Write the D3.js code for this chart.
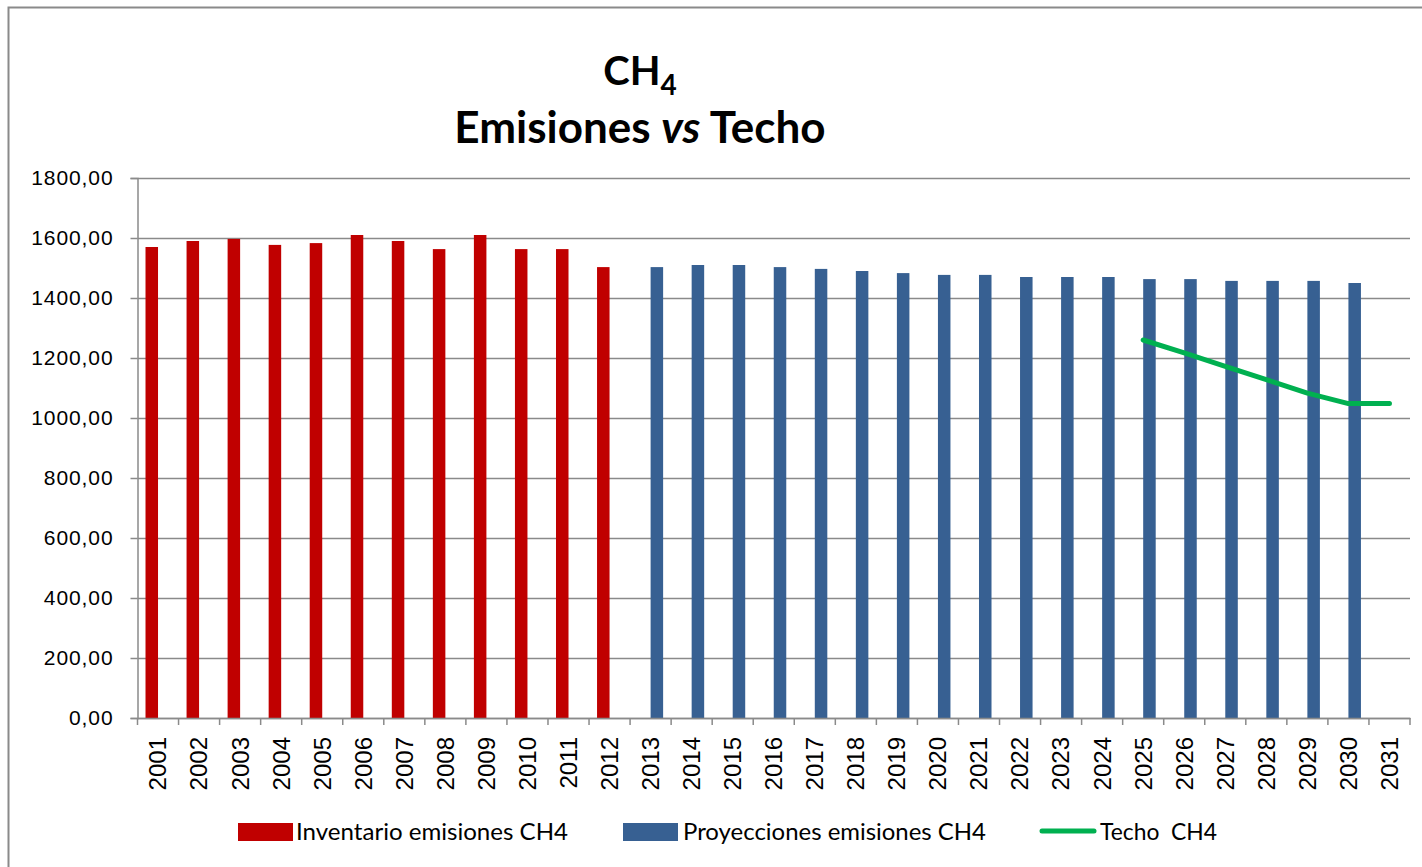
<!DOCTYPE html>
<html>
<head>
<meta charset="utf-8">
<script src="https://cdn.jsdelivr.net/npm/d3@7"></script>
<style>
  body { margin: 0; background: #fff; }
  svg { display: block; font-family: Lato, "Liberation Sans", sans-serif; }
</style>
</head>
<body>
<svg width="1422" height="867"></svg>
<script>
// data
let years = d3.range(2001, 2032).map(String);
let invYears = ["2001","2002","2003","2004","2005","2006","2007","2008","2009","2010","2011","2012"];
let invValues = [1570, 1590, 1597, 1577, 1583, 1610, 1590, 1563, 1610, 1563, 1563, 1503];
let projYears = ["2013","2014","2015","2016","2017","2018","2019","2020","2021","2022","2023","2024","2025","2026","2027","2028","2029","2030"];
let projValues = [1503, 1510, 1510, 1503, 1497, 1490, 1483, 1477, 1477, 1470, 1470, 1470, 1463, 1463, 1457, 1457, 1457, 1450];
let techoYears = ["2025","2026","2027","2028","2029","2030","2031"];
let techoValues = [1260, 1217, 1172, 1128, 1083, 1048, 1048];
let yTicks = [0, 200, 400, 600, 800, 1000, 1200, 1400, 1600, 1800];

let svg = d3.select("svg");

let plotL = 137.5, plotR = 1410, plotT = 178, plotB = 718;

// chart frame (only top/left edges visible)
svg.append("rect")
    .attr("x", 8.5).attr("y", 7.5)
    .attr("width", 1440).attr("height", 900)
    .attr("fill", "none")
    .attr("stroke", "#8a8a8a")
    .attr("stroke-width", 2);

let x = d3.scaleBand().domain(years).range([plotL, plotR]).padding(0);
let x1 = d3.scaleBand().domain(["inv", "proj"]).range([0, x.bandwidth()])
    .paddingInner(0).paddingOuter(0.64);
let y = d3.scaleLinear().domain([0, 1800]).range([plotB, plotT]);

// gridlines
svg.append("g")
    .attr("transform", "translate(" + plotL + ",0)")
    .call(d3.axisLeft(y).tickValues(yTicks).tickSize(-(plotR - plotL)).tickFormat(""))
    .call(g => g.select(".domain").remove())
    .call(g => g.selectAll("line").attr("stroke", "#8a8a8a").attr("stroke-width", 1.5));

// y axis
svg.append("g")
    .attr("transform", "translate(" + plotL + ",0)")
    .call(d3.axisLeft(y).tickValues(yTicks).tickSize(7).tickPadding(17)
        .tickFormat(d => d3.format(".2f")(d).replace(".", ",")))
    .call(g => g.select(".domain").attr("stroke", "#8a8a8a").attr("stroke-width", 1.5))
    .call(g => g.selectAll("line").attr("stroke", "#8a8a8a").attr("stroke-width", 1.5))
    .call(g => g.selectAll("text")
        .attr("fill", "#000")
        .style("font-size", "21px")
        .style("letter-spacing", "0.9px"));

// bars
svg.append("g").selectAll("rect")
    .data(invYears)
    .join("rect")
    .attr("x", (d) => x(d) + x1("inv"))
    .attr("y", (d, i) => y(invValues[i]))
    .attr("width", x1.bandwidth())
    .attr("height", (d, i) => plotB - y(invValues[i]))
    .attr("fill", "#c00000");

svg.append("g").selectAll("rect")
    .data(projYears)
    .join("rect")
    .attr("x", (d) => x(d) + x1("proj"))
    .attr("y", (d, i) => y(projValues[i]))
    .attr("width", x1.bandwidth())
    .attr("height", (d, i) => plotB - y(projValues[i]))
    .attr("fill", "#376092");

// x axis
let xa = svg.append("g").attr("transform", "translate(0," + plotB + ")");
xa.call(d3.axisBottom(x).tickSize(0).tickPadding(0))
    .call(g => g.select(".domain").attr("stroke", "#8a8a8a").attr("stroke-width", 1.5))
    .call(g => g.selectAll(".tick text")
        .attr("fill", "#000")
        .attr("transform", "rotate(-90)")
        .attr("text-anchor", "end")
        .attr("x", -19)
        .attr("y", 0)
        .attr("dy", "0.35em")
        .style("font-size", "24px"));
xa.selectAll(".bound")
    .data(years.concat(["end"]))
    .join("line")
    .attr("class", "bound")
    .attr("x1", d => d === "end" ? plotR : x(d))
    .attr("x2", d => d === "end" ? plotR : x(d))
    .attr("y1", 0).attr("y2", 7)
    .attr("stroke", "#8a8a8a").attr("stroke-width", 1.5);

// techo line
let line = d3.line()
    .x(d => x(d[0]) + x.bandwidth() / 2)
    .y(d => y(d[1]));
svg.append("path")
    .datum(techoYears.map((d, i) => [d, techoValues[i]]))
    .attr("d", line)
    .attr("fill", "none")
    .attr("stroke", "#00b050")
    .attr("stroke-width", 5)
    .attr("stroke-linecap", "round")
    .attr("stroke-linejoin", "round");

// title
let title = svg.append("text")
    .attr("x", 640).attr("y", 85)
    .attr("text-anchor", "middle")
    .style("font-weight", "bold")
    .style("font-size", "40px");
title.append("tspan").text("CH");
title.append("tspan").attr("dy", 10).style("font-size", "28px").text("4");

let title2 = svg.append("text")
    .attr("x", 640).attr("y", 143)
    .attr("text-anchor", "middle")
    .style("font-weight", "bold")
    .style("font-size", "44px");
title2.append("tspan").text("Emisiones ");
title2.append("tspan").style("font-style", "italic").text("vs");
title2.append("tspan").text(" Techo");

// legend
let legend = svg.append("g");
legend.append("rect").attr("x", 238).attr("y", 823).attr("width", 55).attr("height", 18).attr("fill", "#c00000");
legend.append("text").attr("x", 296).attr("y", 840).attr("textLength", 272).attr("lengthAdjust", "spacingAndGlyphs")
    .style("font-size", "23px").text("Inventario emisiones CH4");
legend.append("rect").attr("x", 623).attr("y", 823).attr("width", 55).attr("height", 18).attr("fill", "#376092");
legend.append("text").attr("x", 683).attr("y", 840).attr("textLength", 303).attr("lengthAdjust", "spacingAndGlyphs")
    .style("font-size", "23px").text("Proyecciones emisiones CH4");
legend.append("line").attr("x1", 1042).attr("x2", 1094).attr("y1", 831).attr("y2", 831)
    .attr("stroke", "#00b050").attr("stroke-width", 5).attr("stroke-linecap", "round");
legend.append("text").attr("x", 1100).attr("y", 840).attr("textLength", 117).attr("lengthAdjust", "spacingAndGlyphs")
    .style("font-size", "23px").style("white-space", "pre").text("Techo  CH4");
</script>
</body>
</html>
